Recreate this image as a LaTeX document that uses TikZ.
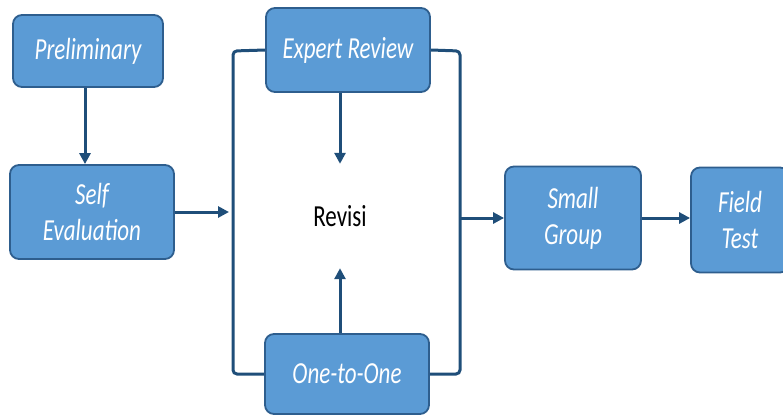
\documentclass[tikz,border=0pt]{standalone}
\usepackage{fontspec}
\setmainfont{Carlito}
\usetikzlibrary{arrows.meta,calc}
\definecolor{boxfill}{RGB}{91,155,213}
\definecolor{boxdraw}{RGB}{46,94,142}
\definecolor{linec}{RGB}{31,78,121}
\newcommand\tall[1]{\scalebox{1}[1.33]{#1}}
\tikzset{
  box/.style={draw=boxdraw, line width=1.8pt, fill=boxfill, rounded corners=9pt,
    text=white, align=center, inner sep=0pt,
    font=\fontsize{23}{36}\selectfont\itshape},
  conn/.style={draw=linec, line width=3pt},
  arr/.style={conn, -{Triangle[length=11pt,width=11pt]}},
}
\begin{document}
\begin{tikzpicture}[x=1pt,y=-1pt]
\useasboundingbox (0,0) rectangle (783,416);
\clip (0,0) rectangle (783,416);
\node[box, minimum width=150pt, minimum height=72pt] (pre) at (88,51) {\tall{Preliminary}};
\node[box, minimum width=164pt, minimum height=94pt] (self) at (92,212) {\tall{Self}\\\tall{Evaluation}};
\node[box, minimum width=164pt, minimum height=84pt] (exp) at (348,50) {\tall{Expert Review}};
\node[box, minimum width=164pt, minimum height=80pt] (one) at (347,374) {\tall{One-to-One}};
\node[box, minimum width=136pt, minimum height=103pt] (small) at (573,218) {\tall{Small}\\\tall{Group}};
\node[box, minimum width=98pt, minimum height=105pt] (field) at (740,220) {\tall{Field}\\\tall{Test}};
\node[minimum width=60pt, minimum height=104pt, inner sep=0pt, font=\fontsize{23}{28}\selectfont] (rev) at (340,216) {\tall{Revisi}};
\coordinate (tl) at (233,51);
\coordinate (tr) at (460,51);
\coordinate (lin) at (233,212);
\coordinate (rout) at (460,218);
\draw[conn, rounded corners=4pt] (exp.west) -- (tl) |- (one.west);
\draw[conn, rounded corners=4pt] (exp.east) -- (tr) |- (one.east);
\draw[arr] (pre.south -| 85,0) -- (self.north -| 85,0);
\draw[arr] (self.east) -- ($(lin)+(-4,0)$);
\draw[arr] (exp.south -| rev.north) -- (rev.north);
\draw[arr] (one.north -| rev.south) -- (rev.south);
\draw[arr] (rout) -- (small.west);
\draw[arr] (small.east) -- (small.east -| field.west);
\end{tikzpicture}
\end{document}
